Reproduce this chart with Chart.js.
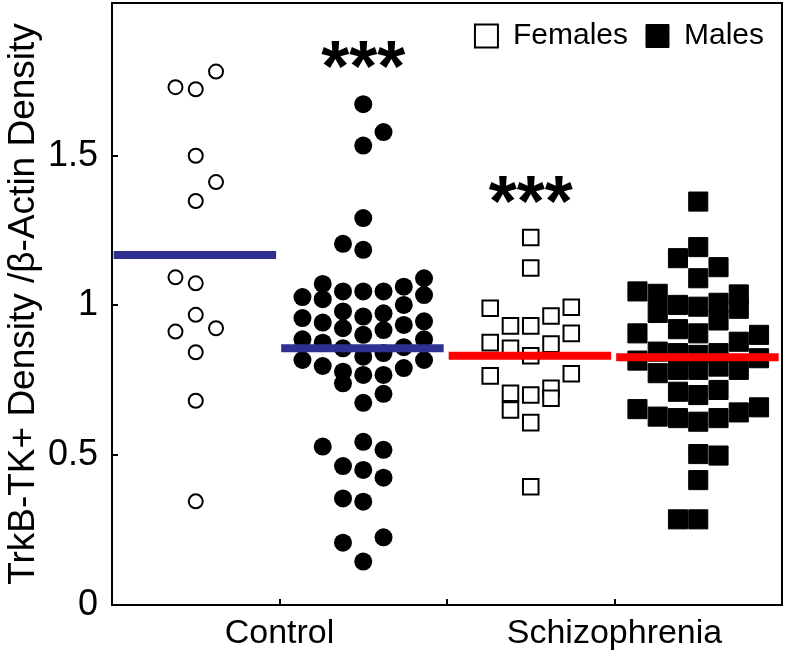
<!DOCTYPE html>
<html>
<head>
<meta charset="utf-8">
<script src="https://cdn.jsdelivr.net/npm/chart.js@4/dist/chart.umd.min.js"></script>
<style>
  html, body { margin: 0; padding: 0; background: #fff; }
  #wrap { width: 787px; height: 661px; }
</style>
</head>
<body>
<div id="wrap"><canvas id="chart" width="787" height="661"></canvas></div>
<script>
'use strict';

/* ----------------------------------------------------------
   DATA
   each group: values + the swarm column each dot sits in
   ---------------------------------------------------------- */
const ctrlFemale     = [1.729, 1.094, 0.913,
                        1.722, 1.500, 1.349, 1.074, 0.969, 0.844, 0.682, 0.346,
                        1.781, 1.412, 0.924];
const ctrlFemaleSlot = [-1, -1, -1, 0, 0, 0, 0, 0, 0, 0, 0, 1, 1, 1];

const ctrlMale     = [1.028, 0.958, 0.887, 0.818,
                      1.072, 1.021, 0.943, 0.876, 0.798, 0.529,
                      1.206, 1.047, 0.980, 0.924, 0.857, 0.779, 0.740, 0.464, 0.356, 0.208,
                      1.672, 1.534, 1.292, 1.186, 1.047, 0.963, 0.902, 0.829, 0.768, 0.675, 0.545, 0.451, 0.345, 0.145,
                      1.579, 1.047, 0.974, 0.918, 0.841, 0.768, 0.705, 0.518, 0.425, 0.226,
                      1.063, 1.002, 0.935, 0.861, 0.791,
                      1.091, 1.035, 0.947, 0.887, 0.818];
const ctrlMaleSlot = [-3, -3, -3, -3,
                      -2, -2, -2, -2, -2, -2,
                      -1, -1, -1, -1, -1, -1, -1, -1, -1, -1,
                      0, 0, 0, 0, 0, 0, 0, 0, 0, 0, 0, 0, 0, 0,
                      1, 1, 1, 1, 1, 1, 1, 1, 1, 1,
                      2, 2, 2, 2, 2,
                      3, 3, 3, 3, 3];

const sczFemale     = [0.991, 0.876, 0.765,
                       0.932, 0.857, 0.707, 0.651,
                       1.227, 1.125, 0.932, 0.832, 0.701, 0.609, 0.395,
                       0.965, 0.871, 0.724, 0.690,
                       0.994, 0.907, 0.772];
const sczFemaleSlot = [-2, -2, -2, -1, -1, -1, -1, 0, 0, 0, 0, 0, 0, 0, 1, 1, 1, 1, 2, 2, 2];

const sczMale     = [1.047, 0.907, 0.816, 0.654,
                     1.039, 0.975, 0.846, 0.774, 0.629,
                     1.158, 1.002, 0.921, 0.841, 0.785, 0.712, 0.624, 0.286,
                     1.347, 1.195, 1.091, 0.996, 0.907, 0.835, 0.785, 0.701, 0.612, 0.504, 0.417, 0.286,
                     1.128, 1.009, 0.950, 0.841, 0.796, 0.718, 0.624, 0.499,
                     1.037, 0.989, 0.879, 0.785, 0.643,
                     0.902, 0.824, 0.660];
const sczMaleSlot = [-3, -3, -3, -3,
                     -2, -2, -2, -2, -2,
                     -1, -1, -1, -1, -1, -1, -1, -1,
                     0, 0, 0, 0, 0, 0, 0, 0, 0, 0, 0, 0,
                     1, 1, 1, 1, 1, 1, 1, 1,
                     2, 2, 2, 2, 2,
                     3, 3, 3];

const groupMeans   = [1.169, 0.857, 0.832, 0.827];   // ctrl F, ctrl M, scz F, scz M
const xTickValues  = [1, 2, 3];
const xTickLabels  = ['Control', '', 'Schizophrenia'];
const yTickValues  = [0, 0.5, 1, 1.5];
const sigX         = [1.5, 2.5];
const sigY         = [1.837, 1.386];
const sigText      = '***';

/* ----------------------------------------------------------
   STYLE
   ---------------------------------------------------------- */
const FONT  = "'Liberation Sans', Arial, Helvetica, sans-serif";
const BLUE  = '#2e3192';
const RED   = '#ff0000';
const SLOT  = 0.121;          // swarm column spacing in x units
const Y_MAX = 2.01;

function swarm(values, slots, center) {
  return values.map((v, i) => ({ x: center + slots[i] * SLOT, y: v }));
}

function meanLine(center, value, color) {
  return {
    type: 'line',
    label: 'mean',
    data: [{ x: center - 0.49, y: value }, { x: center + 0.48, y: value }],
    borderColor: color,
    borderWidth: 8,
    borderCapStyle: 'butt',
    pointRadius: 0,
    order: 0,
  };
}

/* ----------------------------------------------------------
   PLUGINS
   ---------------------------------------------------------- */
// legend sits inside the plot box: it takes no layout height,
// then gets its real height back so it isn't clipped away
const legendInside = {
  id: 'legendInside',
  beforeInit(chart) {
    const lg = chart.legend;
    const fit = lg.fit;
    lg.fit = function () {
      fit.call(this);
      this._realHeight = this.height;
      this.height = 0;
    };
  },
  afterLayout(chart) {
    const lg = chart.legend;
    lg.height = lg._realHeight;
    lg.bottom = lg.top + lg._realHeight;
  }
};

// box frame, inward ticks, significance stars
const frameAndMarks = {
  id: 'frameAndMarks',
  afterDatasetsDraw(chart) {
    const { ctx, chartArea: a, scales: { x, y } } = chart;
    ctx.save();
    ctx.strokeStyle = '#000';
    ctx.lineWidth = 2;
    ctx.strokeRect(a.left, a.top, a.right - a.left, a.bottom - a.top);

    ctx.beginPath();
    xTickValues.forEach(v => {
      const px = Math.round(x.getPixelForValue(v));
      ctx.moveTo(px, a.bottom);
      ctx.lineTo(px, a.bottom - 6);
    });
    yTickValues.forEach(v => {
      const py = Math.round(y.getPixelForValue(v));
      ctx.moveTo(a.left, py);
      ctx.lineTo(a.left + 6, py);
    });
    ctx.stroke();

    ctx.fillStyle = '#000';
    ctx.font = `bold 72px ${FONT}`;
    ctx.textAlign = 'center';
    ctx.textBaseline = 'alphabetic';
    const m = ctx.measureText(sigText);
    const off = (m.actualBoundingBoxAscent - m.actualBoundingBoxDescent) / 2;
    sigX.forEach((sx, i) => {
      ctx.fillText(sigText, x.getPixelForValue(sx), y.getPixelForValue(sigY[i]) + off);
    });
    ctx.restore();
  }
};

/* ----------------------------------------------------------
   CHART
   ---------------------------------------------------------- */
const chart = new Chart(document.getElementById('chart'), {
  type: 'scatter',
  data: {
    datasets: [
      meanLine(0.5, groupMeans[0], BLUE),
      meanLine(1.5, groupMeans[1], BLUE),
      meanLine(2.5, groupMeans[2], RED),
      meanLine(3.5, groupMeans[3], RED),
      {
        label: 'Females',
        data: swarm(ctrlFemale, ctrlFemaleSlot, 0.5),
        pointStyle: 'circle',
        pointRadius: 7,
        backgroundColor: '#fff',
        borderColor: '#000',
        borderWidth: 2,
        order: 1,
      },
      {
        label: 'Males',
        data: swarm(ctrlMale, ctrlMaleSlot, 1.5),
        pointStyle: 'circle',
        pointRadius: 9,
        backgroundColor: '#000',
        borderColor: '#000',
        borderWidth: 0,
        order: 1,
      },
      {
        label: 'Females',
        inLegend: true,
        data: swarm(sczFemale, sczFemaleSlot, 2.5),
        pointStyle: 'rect',
        pointRadius: 11,
        backgroundColor: '#fff',
        borderColor: '#000',
        borderWidth: 2,
        order: 1,
      },
      {
        label: 'Males',
        inLegend: true,
        data: swarm(sczMale, sczMaleSlot, 3.5),
        pointStyle: 'rect',
        pointRadius: 13.5,
        backgroundColor: '#000',
        borderColor: '#000',
        borderWidth: 1,
        order: 1,
      },
    ]
  },
  options: {
    responsive: false,
    animation: false,
    events: [],
    layout: { autoPadding: false, padding: { top: 3, right: 5, bottom: 0, left: 0 } },
    plugins: {
      tooltip: { enabled: false },
      legend: {
        position: 'top',
        align: 'end',
        labels: {
          filter: (item, data) => data.datasets[item.datasetIndex].inLegend === true,
          usePointStyle: true,
          boxWidth: 23,
          boxHeight: 23,
          padding: 18,
          color: '#000',
          font: { family: FONT, size: 30 },
        }
      }
    },
    scales: {
      x: {
        type: 'linear',
        min: 0,
        max: 4,
        afterBuildTicks: s => { s.ticks = xTickValues.map(v => ({ value: v })); },
        afterFit: s => { s.height = 56; s.paddingLeft = 0; s.paddingRight = 0; },
        ticks: {
          autoSkip: false,
          maxRotation: 0,
          padding: 8,
          color: '#000',
          font: { family: FONT, size: 34 },
          callback: (v, i) => xTickLabels[i],
        },
        grid: { display: false, drawTicks: false },
        border: { display: true, color: '#000', width: 2 },
      },
      y: {
        min: 0,
        max: Y_MAX,
        afterBuildTicks: s => { s.ticks = yTickValues.map(v => ({ value: v })); },
        afterFit: s => { s.width = 112; s.paddingTop = 0; s.paddingBottom = 0; },
        ticks: {
          padding: 14,
          color: '#000',
          font: { family: FONT, size: 36 },
          callback: v => String(v),
        },
        grid: { display: false, drawTicks: false },
        border: { display: true, color: '#000', width: 2 },
        title: {
          display: true,
          text: 'TrkB-TK+ Density /\u03B2-Actin Density',
          color: '#000',
          font: { family: FONT, size: 37 },
          padding: { top: 2, bottom: 0 },
        },
      }
    }
  },
  plugins: [legendInside, frameAndMarks],
});
</script>
</body>
</html>
